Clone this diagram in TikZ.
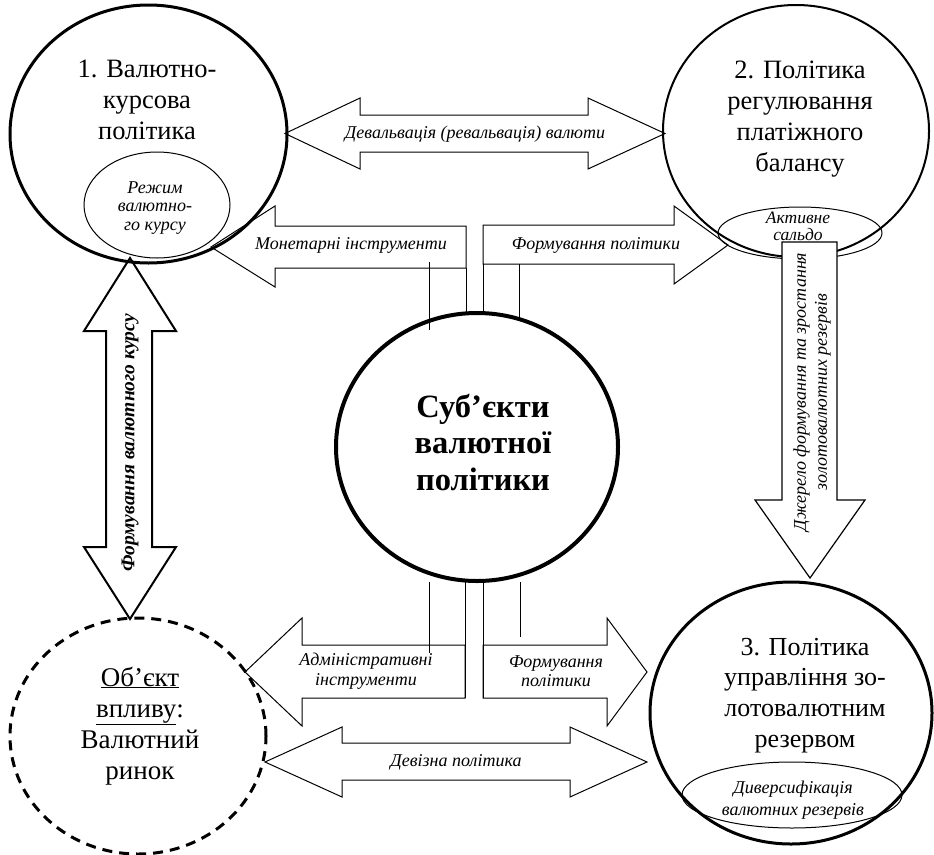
\documentclass[tikz,border=0pt]{standalone}
\usepackage{fontspec}
\setmainfont{Liberation Serif}
\usetikzlibrary{shapes.geometric}
\newcommand{\stk}[1]{\begin{tabular}[t]{@{}c@{}}#1\end{tabular}}

\begin{document}
\begin{tikzpicture}[x=1pt,y=-1pt,
  oval/.style={ellipse, draw, inner sep=0pt},
  bigtxt/.style={font=\fontsize{26.5}{31}\selectfont, anchor=base, inner sep=0pt},
  smalltxt/.style={font=\itshape\fontsize{18}{18.5}\selectfont, anchor=base, inner sep=0pt},
  lbl/.style={font=\itshape\fontsize{18}{21}\selectfont, inner sep=0pt, align=center},
  blockarrow/.style={draw, fill=white, line width=1pt, line join=miter},
  stem/.style={line width=1pt},
]
\useasboundingbox (0,0) rectangle (934,854);

% ---- block arrows between the policy circles ----
\draw[blockarrow] (285,133.5) -- (360,98) -- (360,115) -- (588,115) -- (588,98) -- (665,133.5)
  -- (588,169) -- (588,152) -- (360,152) -- (360,169) -- cycle;
\node[lbl] (tdev) at (475,134) {Девальвація (ревальвація) валюти};

\draw[blockarrow] (211,247) -- (275,206) -- (275,226) -- (466,226) -- (466,268) -- (275,268) -- (275,287) -- cycle;
\node[lbl] (tmon) at (351,245) {Монетарні інструменти};

\draw[blockarrow] (483,225) -- (674,225) -- (674,206) -- (728,245) -- (674,284) -- (674,264) -- (483,264) -- cycle;
\node[lbl] (tform1) at (596,245) {Формування політики};

\draw[blockarrow] (245,672) -- (302,618) -- (302,645) -- (465,645) -- (465,698) -- (302,698) -- (302,726) -- cycle;
\node[lbl, font=\itshape\fontsize{18}{19.5}\selectfont] (tadm) at (366,671) {Адміністративні\\інструменти};

\draw[blockarrow] (483,645) -- (607,645) -- (607,618) -- (647,672) -- (607,726) -- (607,698) -- (483,698) -- cycle;
\node[lbl, font=\itshape\fontsize{18}{19.5}\selectfont] (tform2) at (556,671) {Формування\\політики};

\draw[blockarrow] (265,762) -- (342,727) -- (342,743) -- (570,743) -- (570,727) -- (647,762)
  -- (570,797) -- (570,780) -- (342,780) -- (342,797) -- cycle;
\node[lbl] (tdevz) at (456,762) {Девізна політика};

\draw[blockarrow, line width=2pt] (130,258) -- (176,331) -- (152,331) -- (152,547) -- (176,547) -- (130,619)
  -- (84,547) -- (106,547) -- (106,331) -- (84,331) -- cycle;
\node[lbl, font=\bfseries\itshape\fontsize{19.5}{22}\selectfont, rotate=90] (tkurs) at (130,443) {Формування валютного курсу};

% ---- circles ----
\node[oval, line width=3pt, minimum width=277pt, minimum height=258pt] (p1) at (148.5,134) {};
\node[oval, line width=2pt, minimum width=266pt, minimum height=252pt] (p2) at (796,131) {};
\node[oval, line width=3pt, minimum width=282pt, minimum height=262pt] (p3) at (791,713) {};
\node[oval, line width=4pt, minimum width=282pt, minimum height=268pt] (subj) at (477,447) {};
\node[oval, line width=3pt, dash pattern=on 10pt off 7pt, minimum width=256pt, minimum height=236pt] (obj) at (138,736) {};

\node[oval, line width=1pt, minimum width=146pt, minimum height=106pt] (e1) at (157,205) {};
\node[oval, line width=1pt, minimum width=164pt, minimum height=52pt] (e2) at (800,233) {};
\node[oval, line width=1pt, minimum width=220pt, minimum height=66pt] (e3) at (792,795) {};

% ---- stems linking the arrows with the central circle ----
\draw[stem] (466,268) -- (466,314);
\draw[stem] (429,262) -- (429,330);
\draw[stem] (483,264) -- (483,314);
\draw[stem] (519,264) -- (519,320);
\draw[stem] (465,698) -- (465,582);
\draw[stem] (429,653) -- (429,582);
\draw[stem] (483,698) -- (483,582);
\draw[stem] (520,637) -- (520,582);

% ---- arrow from the balance of payments to the reserves ----
\draw[blockarrow, line width=1.2pt] (782,242) -- (837,242) -- (837,500) -- (865,500) -- (810,578) -- (755,500) -- (782,500) -- cycle;
\node[lbl, font=\itshape\fontsize{18}{21}\selectfont, rotate=90] (tsrc) at (812,392) {Джерело формування та зростання\\золотовалютних резервів};

% ---- texts ----
\node[bigtxt] (l1) at (147,77) {\stk{1. Валютно-\\курсова\\політика}};
\node[bigtxt] (l2) at (800,78) {\stk{2. Політика\\регулювання\\платіжного\\балансу}};
\node[bigtxt, font=\fontsize{26}{30.7}\selectfont] (l3) at (805,655) {\stk{3. Політика\\управління зо-\\лотовалютним\\резервом}};
\node[bigtxt, font=\fontsize{27}{31}\selectfont] (lobj) at (140,686) {\stk{\underline{Об’єкт}\\\underline{впливу}:\\Валютний\\ринок}};
\node[bigtxt, font=\bfseries\fontsize{32.5}{36.5}\selectfont] (lsubj) at (483,417) {\stk{Суб’єкти\\валютної\\політики}};

\node[smalltxt] (s1) at (155,193) {\stk{Режим\\валютно-\\го курсу}};
\node[smalltxt, font=\itshape\fontsize{17.5}{17}\selectfont] (s2) at (798,223) {\stk{Активне\\сальдо}};
\node[smalltxt, font=\itshape\fontsize{18}{22}\selectfont] (s3) at (793,793) {\stk{Диверсифікація\\валютних резервів}};
\end{tikzpicture}
\end{document}
